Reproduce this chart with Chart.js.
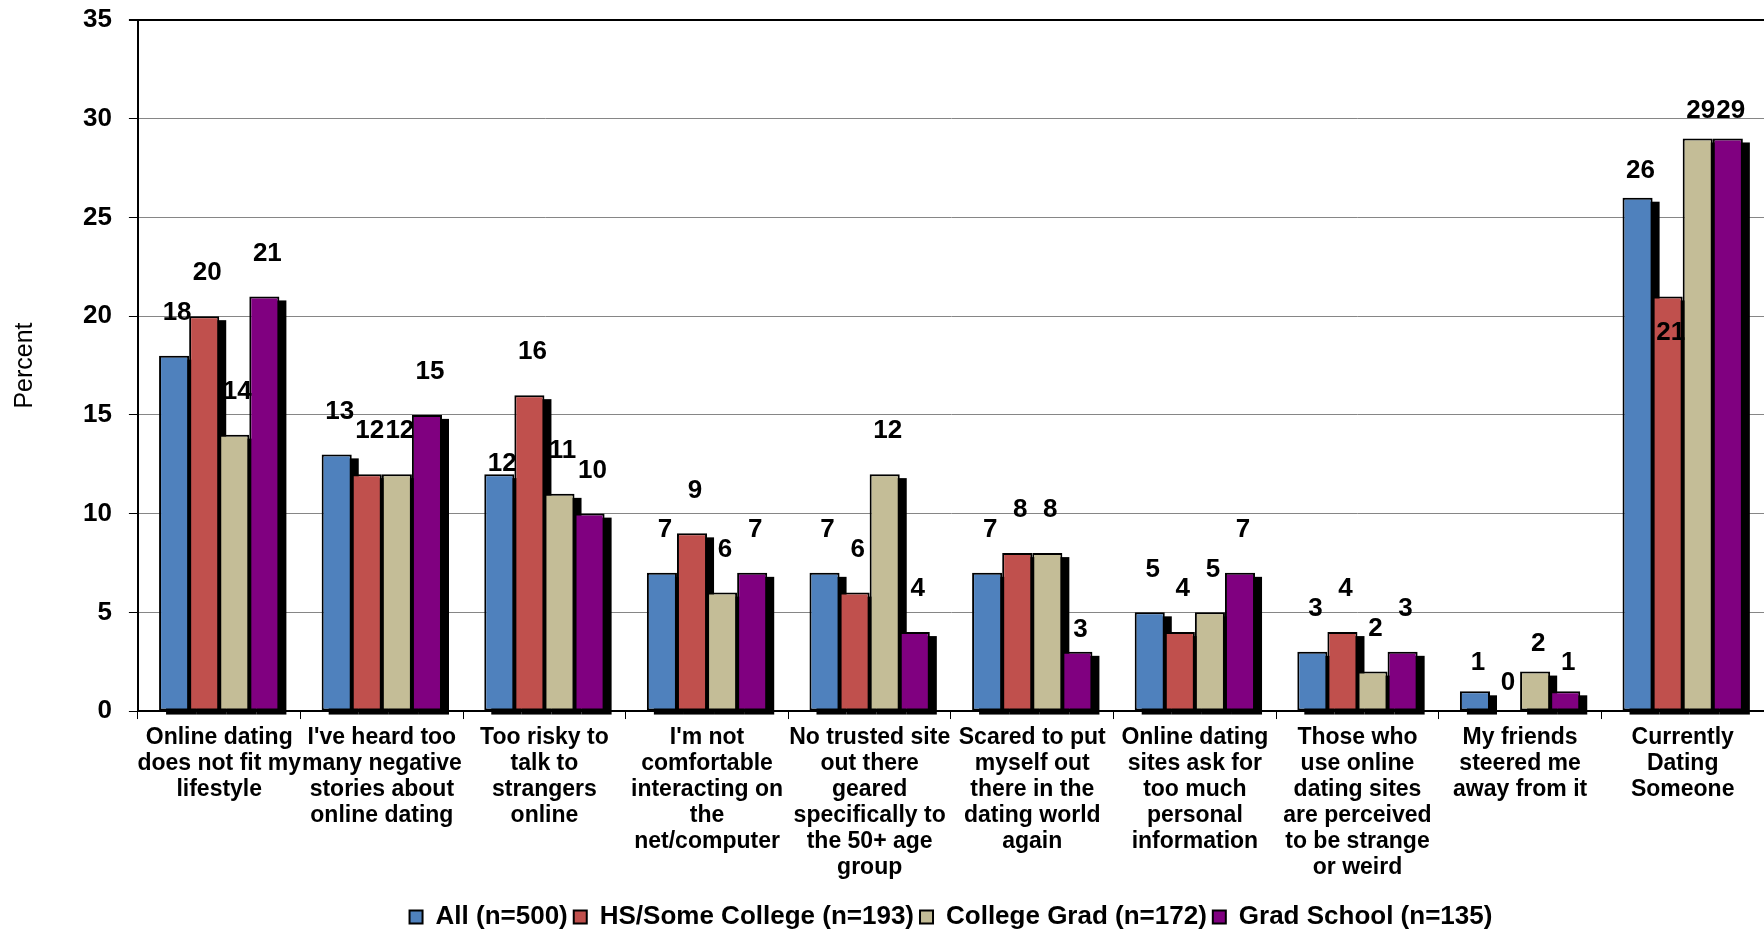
<!DOCTYPE html>
<html>
<head>
<meta charset="utf-8">
<script src="https://cdn.jsdelivr.net/npm/chart.js@4.4.1/dist/chart.umd.min.js"></script>
<style>
  html, body { margin: 0; padding: 0; background: #fff; overflow: hidden; }
  #wrap { width: 1764px; height: 940px; }
</style>
</head>
<body>
<div id="wrap"><canvas id="mycanvas" width="1764" height="940"></canvas></div>
<script>
// reasons for not using online dating, by education
var reasons = [
  ['Online dating', 'does not fit my', 'lifestyle'],
  ["I've heard too", 'many negative', 'stories about', 'online dating'],
  ['Too risky to', 'talk to', 'strangers', 'online'],
  ["I'm not", 'comfortable', 'interacting on', 'the', 'net/computer'],
  ['No trusted site', 'out there', 'geared', 'specifically to', 'the 50+ age', 'group'],
  ['Scared to put', 'myself out', 'there in the', 'dating world', 'again'],
  ['Online dating', 'sites ask for', 'too much', 'personal', 'information'],
  ['Those who', 'use online', 'dating sites', 'are perceived', 'to be strange', 'or weird'],
  ['My friends', 'steered me', 'away from it'],
  ['Currently', 'Dating', 'Someone']
];
var seriesNames = ['All (n=500)', 'HS/Some College (n=193)', 'College Grad (n=172)', 'Grad School (n=135)'];
var allResp       = [18, 13, 12, 7, 7, 7, 5, 3, 1, 26];
var hsSomeCollege = [20, 12, 16, 9, 6, 8, 4, 4, 0, 21];
var collegeGrad   = [14, 12, 11, 6, 12, 8, 5, 2, 2, 29];
var gradSchool    = [21, 15, 10, 7, 4, 3, 7, 3, 1, 29];
var yMax = 35, yStep = 5;

var coloR = ['#4F81BD', '#C0504D', '#C4BD97', '#800080'];
var fontFam = '"Liberation Sans", Arial, sans-serif';

// value labels sit ~43px above the bar; a few were moved by hand
var labelLift = { '0-2': 10, '3-5': 22, '0-8': 28, '1-8': 28, '2-8': 28, '3-8': 28,
                  '0-9': 27, '1-9': -36, '2-9': 28, '3-9': 28 };

var barShadow = {
  id: 'barShadow',
  beforeDatasetsDraw: function(chart) {
    var ctx = chart.ctx;
    ctx.save();
    ctx.fillStyle = '#000';
    chart.data.datasets.forEach(function(ds, i) {
      chart.getDatasetMeta(i).data.forEach(function(bar, j) {
        if (!ds.data[j]) return;
        var p = bar.getProps(['x', 'y', 'base', 'width'], true);
        ctx.fillRect(p.x - p.width / 2 + 7, p.y + 4, p.width, p.base - p.y);
      });
    });
    ctx.restore();
  }
};

var valueLabels = {
  id: 'valueLabels',
  afterDatasetsDraw: function(chart) {
    var ctx = chart.ctx;
    ctx.save();
    ctx.font = 'bold 26px ' + fontFam;
    ctx.fillStyle = '#000';
    ctx.textAlign = 'center';
    ctx.textBaseline = 'middle';
    chart.data.datasets.forEach(function(ds, i) {
      chart.getDatasetMeta(i).data.forEach(function(bar, j) {
        var lift = labelLift[i + '-' + j];
        if (lift === undefined) lift = 43;
        ctx.fillText(String(ds.data[j]), bar.x + 3, bar.y - lift);
      });
    });
    ctx.restore();
  }
};

var seriesData = [allResp, hsSomeCollege, collegeGrad, gradSchool];
var datasets = [];
for (var i in seriesData) {
  datasets.push({
    label: seriesNames[i],
    data: seriesData[i],
    backgroundColor: coloR[i],
    borderColor: '#000',
    borderWidth: function(c) { return c.raw === 0 ? 0 : 2; },
    borderSkipped: false,
    barPercentage: 1,
    categoryPercentage: 0.74
  });
}

var ctx = document.getElementById('mycanvas');
var barGraph = new Chart(ctx, {
  type: 'bar',
  data: { labels: reasons, datasets: datasets },
  plugins: [barShadow, valueLabels],
  options: {
    responsive: false,
    animation: false,
    layout: { padding: { top: 20, right: 0, left: 0, bottom: 0 } },
    plugins: {
      tooltip: { enabled: false },
      legend: {
        position: 'bottom',
        fullSize: false,
        labels: {
          boxWidth: 13, boxHeight: 13, padding: 6, color: '#000',
          font: { family: fontFam, size: 26, weight: 'bold' }
        }
      }
    },
    scales: {
      x: {
        grid: { offset: true, drawOnChartArea: false, color: '#000', tickLength: 8 },
        border: { color: '#000', width: 2 },
        ticks: {
          color: '#000', maxRotation: 0, autoSkip: false, padding: 6,
          font: { family: fontFam, size: 23, weight: 'bold', lineHeight: 1.13 }
        },
        // leave a gap between the category labels and the legend
        afterFit: function(scale) { scale.height += 11; }
      },
      y: {
        min: 0, max: yMax,
        ticks: {
          stepSize: yStep, color: '#000', padding: 17,
          font: { family: fontFam, size: 26, weight: 'bold' }
        },
        grid: {
          color: function(c) { return c.tick.value === yMax ? '#000' : '#868686'; },
          lineWidth: function(c) { return c.tick.value === yMax ? 2 : 1; },
          tickColor: '#000', tickLength: 9
        },
        border: { color: '#000', width: 2 },
        title: {
          display: true, text: 'Percent', color: '#000',
          font: { family: fontFam, size: 25 },
          padding: { top: 10, bottom: 26 }
        },
        // top label may hang above the plot; layout padding handles it
        afterFit: function(scale) { scale.paddingTop = 0; }
      }
    }
  }
});
</script>
</body>
</html>
